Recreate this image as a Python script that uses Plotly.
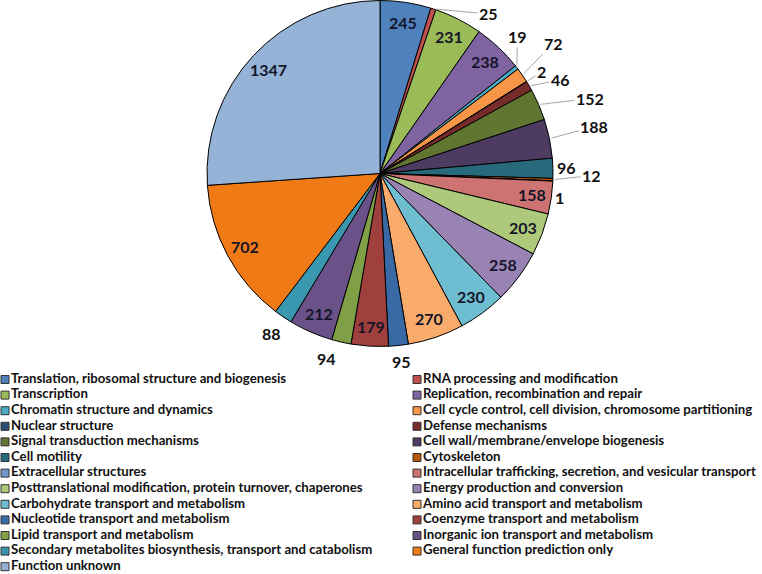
import math
import plotly.graph_objects as go

categories = [
    "Translation, ribosomal structure and biogenesis",
    "RNA processing and modification",
    "Transcription",
    "Replication, recombination and repair",
    "Chromatin structure and dynamics",
    "Cell cycle control, cell division, chromosome partitioning",
    "Nuclear structure",
    "Defense mechanisms",
    "Signal transduction mechanisms",
    "Cell wall/membrane/envelope biogenesis",
    "Cell motility",
    "Cytoskeleton",
    "Extracellular structures",
    "Intracellular trafficking, secretion, and vesicular transport",
    "Posttranslational modification, protein turnover, chaperones",
    "Energy production and conversion",
    "Carbohydrate transport and metabolism",
    "Amino acid transport and metabolism",
    "Nucleotide transport and metabolism",
    "Coenzyme transport and metabolism",
    "Lipid transport and metabolism",
    "Inorganic ion transport and metabolism",
    "Secondary metabolites biosynthesis, transport and catabolism",
    "General function prediction only",
    "Function unknown",
]
counts = [245, 25, 231, 238, 19, 72, 2, 46, 152, 188, 96, 12, 1,
          158, 203, 258, 230, 270, 95, 179, 94, 212, 88, 702, 1347]

colors = [
    "#4F81BD", "#C0504D", "#9BBB59", "#8064A2", "#4BACC6", "#F79646",
    "#2C4D75", "#772C2A", "#5F7530", "#4D3B62", "#276A7C", "#B65708",
    "#729ACA", "#CD7371", "#AFC97A", "#9983B5", "#6FBDD1", "#F9AB6B",
    "#3A6AA6", "#A0403D", "#7FA046", "#6A5289", "#3A97B0", "#EF7A16",
    "#95B3D7",
]

# label placement (layout only): None -> label inside the slice;
# (dx, dy, leader) -> pixel offset of the label from the slice's outer edge
label_place = {
    1: (55, 5, True), 4: (1, -31, True), 5: (31, -32, True), 6: (15, -10, True),
    7: (31, -6, True), 8: (51, -6, True), 9: (45, -12, True), 10: (14, -1, False),
    11: (39, -4, True), 12: (7, 16, False), 18: (3, 16, False), 20: (-15, 16, False),
    22: (-12, 17, False),
}

W, H = 762, 574
FONT = "Lato"
PIE_X = (207, 553)       # pixels
PIE_Y = (0, 347)         # pixels from top

fig = go.Figure()

fig.add_trace(go.Pie(
    labels=categories,
    values=counts,
    sort=False,
    direction="clockwise",
    rotation=0,
    marker=dict(colors=colors, line=dict(color="#000000", width=1)),
    textinfo="none",
    domain=dict(x=[PIE_X[0] / W, PIE_X[1] / W], y=[1 - PIE_Y[1] / H, 1 - PIE_Y[0] / H]),
    showlegend=False,
    hoverinfo="label+value",
))

# value labels placed from each slice's mid-angle
cx = (PIE_X[0] + PIE_X[1]) / 2
cy = (PIE_Y[0] + PIE_Y[1]) / 2
r = min(PIE_X[1] - PIE_X[0], PIE_Y[1] - PIE_Y[0]) / 2
total = sum(counts)
cum = 0
annotations = []
for i, v in enumerate(counts):
    mid = (cum + v / 2) / total * 2 * math.pi
    cum += v
    s, c = math.sin(mid), math.cos(mid)
    place = label_place.get(i)
    if place is None:
        px, py = cx + 0.885 * r * s, cy - 0.885 * r * c
        annotations.append(dict(x=px / W, y=1 - py / H, xref="paper", yref="paper",
                                xanchor="center", yanchor="middle",
                                text=str(v), showarrow=False,
                                font=dict(family=FONT, size=16, color="#15152a", weight="bold")))
    else:
        dx, dy, leader = place
        ex, ey = cx + r * s, cy - r * c
        if leader:
            annotations.append(dict(x=ex / W, y=1 - ey / H, xref="paper", yref="paper",
                                    text=str(v), showarrow=True, ax=dx, ay=dy,
                                    arrowhead=0, arrowwidth=1, arrowcolor="#A6A6A6",
                                    standoff=2,
                                    font=dict(family=FONT, size=16, color="#111111", weight="bold")))
        else:
            annotations.append(dict(x=(ex + dx) / W, y=1 - (ey + dy) / H, xref="paper", yref="paper",
                                    xanchor="center", yanchor="middle",
                                    text=str(v), showarrow=False,
                                    font=dict(family=FONT, size=16, color="#111111", weight="bold")))

# two-column legend drawn as a square-marker scatter on hidden axes
rows = [i // 2 for i in range(len(categories))]
cols = [i % 2 for i in range(len(categories))]
fig.add_trace(go.Scatter(
    x=cols, y=rows,
    mode="markers+text",
    text=categories,
    textposition="middle right",
    textfont=dict(family=FONT, size=13.2, color="#111111", weight="bold"),
    marker=dict(symbol="square", size=8, color=colors, line=dict(color="#333333", width=1)),
    showlegend=False,
    hoverinfo="skip",
    cliponaxis=False,
))

row_px0, row_step = 379.5, 15.6
col_px0, col_step = 5, 412
x0 = -col_px0 / col_step
fig.update_xaxes(visible=False, range=[x0, x0 + W / col_step], domain=[0, 1], fixedrange=True)
fig.update_yaxes(visible=False, range=[(H - row_px0) / row_step, -row_px0 / row_step],
                 domain=[0, 1], fixedrange=True)

fig.update_layout(
    width=W, height=H,
    margin=dict(l=0, r=0, t=0, b=0),
    paper_bgcolor="white",
    plot_bgcolor="rgba(0,0,0,0)",
    annotations=annotations,
)

fig.write_html("out.html", config={"displayModeBar": False},
               post_script="document.body.style.margin='0px';")
